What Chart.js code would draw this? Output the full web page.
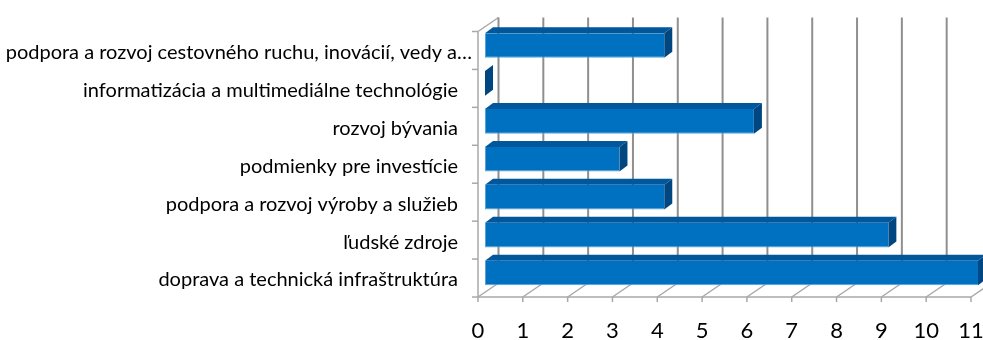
<!DOCTYPE html>
<html lang="sk">
<head>
<meta charset="utf-8">
<title>Priority</title>
<script src="https://cdn.jsdelivr.net/npm/chart.js@4.4.1/dist/chart.umd.min.js"></script>
<style>
  html, body { margin: 0; padding: 0; background: #fff; }
  #wrap { width: 983px; height: 340px; }
</style>
</head>
<body>
<div id="wrap"><canvas id="chart" width="983" height="340"></canvas></div>
<script>
// categories, top to bottom
const CATEGORIES = [
  "podpora a rozvoj cestovného ruchu, inovácií, vedy a…",
  "informatizácia a multimediálne technológie",
  "rozvoj bývania",
  "podmienky pre investície",
  "podpora a rozvoj výroby a služieb",
  "ľudské zdroje",
  "doprava a technická infraštruktúra",
];
const COUNTS = [4, 0, 6, 3, 4, 9, 11];
const AXIS_MIN = 0;
const AXIS_MAX = 11;
const AXIS_STEP = 1;

const TEXT_COLOR  = "#000000";
const GRID_COLOR  = "#8f8f8f";
const FLOOR_COLOR = "#a8a8a8";
const BAR_FRONT   = "#0070c0";
const BAR_EDGE    = "#5aa3da";
const BAR_TOP     = "#00579b";
const BAR_SIDE    = "#004781";

// pseudo-3D offsets relative to the plane the bars sit in
const FRONT = { dx: -7, dy: 5 };
const BACK  = { dx: 13.5, dy: -9 };
const BAR_DEPTH = { dx: 8, dy: -6 };

// the truncated first label sits a bit further right than the others
const TRUNCATED_SHIFT = 14;

function line(ctx, x1, y1, x2, y2) {
  ctx.beginPath();
  ctx.moveTo(x1, y1);
  ctx.lineTo(x2, y2);
  ctx.stroke();
}

function poly(ctx, pts) {
  ctx.beginPath();
  ctx.moveTo(pts[0][0], pts[0][1]);
  for (let i = 1; i < pts.length; i++) ctx.lineTo(pts[i][0], pts[i][1]);
  ctx.closePath();
  ctx.fill();
}

// walls, floor and back gridlines behind the bars
const boxPlugin = {
  id: "box3d",
  beforeDraw(chart) {
    const items = chart.scales.y.getLabelItems();
    items.forEach((item, i) => {
      if (CATEGORIES[i].endsWith("…")) item.options.translation[0] += TRUNCATED_SHIFT;
    });
  },
  beforeDatasetsDraw(chart) {
    const { ctx, chartArea: a, scales: { x } } = chart;
    const x0 = x.getPixelForValue(AXIS_MIN);
    const n = CATEGORIES.length;
    ctx.save();
    ctx.lineCap = "butt";

    // back wall gridlines
    ctx.strokeStyle = GRID_COLOR;
    ctx.lineWidth = 2;
    for (let v = AXIS_MIN + AXIS_STEP; v <= AXIS_MAX; v += AXIS_STEP) {
      const px = x.getPixelForValue(v) + BACK.dx;
      line(ctx, px, a.top + BACK.dy, px, a.bottom + BACK.dy);
    }

    // floor
    ctx.strokeStyle = FLOOR_COLOR;
    ctx.lineWidth = 1.5;
    for (let v = AXIS_MIN; v <= AXIS_MAX; v += AXIS_STEP) {
      const px = x.getPixelForValue(v);
      line(ctx, px + FRONT.dx, a.bottom + FRONT.dy, px + BACK.dx, a.bottom + BACK.dy);
      line(ctx, px + FRONT.dx, a.bottom + FRONT.dy, px + FRONT.dx, a.bottom + FRONT.dy + 5);
    }
    line(ctx, x0 + FRONT.dx, a.bottom + FRONT.dy,
         x.getPixelForValue(AXIS_MAX) + FRONT.dx, a.bottom + FRONT.dy);

    // left wall
    line(ctx, x0 + FRONT.dx, a.top + FRONT.dy, x0 + FRONT.dx, a.bottom + FRONT.dy);
    line(ctx, x0 + FRONT.dx, a.top + FRONT.dy, x0 + BACK.dx, a.top + BACK.dy);
    ctx.strokeStyle = GRID_COLOR;
    ctx.lineWidth = 2;
    line(ctx, x0 + BACK.dx, a.top + BACK.dy, x0 + BACK.dx, a.bottom + BACK.dy);
    ctx.strokeStyle = FLOOR_COLOR;
    ctx.lineWidth = 1.5;
    for (let i = 0; i <= n; i++) {
      const py = a.top + i * (a.height / n) + FRONT.dy;
      line(ctx, x0 + FRONT.dx - 6, py, x0 + FRONT.dx, py);
    }
    ctx.restore();
  },
  // top and end faces of each bar
  afterDatasetsDraw(chart) {
    const { ctx } = chart;
    const meta = chart.getDatasetMeta(0);
    ctx.save();
    meta.data.forEach(bar => {
      const { x: xe, y: yc, base, height } = bar.getProps(["x", "y", "base", "height"], true);
      const top = yc - height / 2;
      const bot = yc + height / 2;
      const { dx, dy } = BAR_DEPTH;
      ctx.fillStyle = BAR_TOP;
      poly(ctx, [[base, top], [xe, top], [xe + dx, top + dy], [base + dx, top + dy]]);
      ctx.fillStyle = BAR_SIDE;
      poly(ctx, [[xe, top], [xe + dx, top + dy], [xe + dx, bot + dy], [xe, bot]]);
    });
    ctx.restore();
  },
};

new Chart(document.getElementById("chart"), {
  type: "bar",
  plugins: [boxPlugin],
  data: {
    labels: CATEGORIES,
    datasets: [{
      data: COUNTS,
      backgroundColor: BAR_FRONT,
      borderColor: BAR_EDGE,
      borderWidth: { top: 0, right: 0, bottom: 1, left: 1 },
      borderSkipped: false,
      categoryPercentage: 1,
      barPercentage: 0.65,
    }],
  },
  options: {
    indexAxis: "y",
    responsive: false,
    animation: false,
    devicePixelRatio: 1,
    layout: { padding: { top: 26.5, right: 5, left: 0, bottom: 0 } },
    plugins: { legend: { display: false }, tooltip: { enabled: false } },
    scales: {
      x: {
        type: "linear",
        min: AXIS_MIN,
        max: AXIS_MAX,
        grid: { display: false, drawTicks: false },
        border: { display: false },
        ticks: {
          stepSize: AXIS_STEP,
          labelOffset: FRONT.dx,
          padding: 26,
          maxRotation: 0,
          color: TEXT_COLOR,
          font: { family: "Lato", size: 22 },
        },
        afterFit(s) { s.height = 48; s.paddingLeft = 0; s.paddingRight = 0; },
      },
      y: {
        grid: { display: false, drawTicks: false },
        border: { display: false },
        ticks: {
          autoSkip: false,
          labelOffset: 7,
          padding: 27,
          color: TEXT_COLOR,
          font: { family: "Lato", size: 20 },
        },
        afterFit(s) { s.width = 485; s.paddingTop = 0; s.paddingBottom = 0; },
      },
    },
  },
});
</script>
</body>
</html>
